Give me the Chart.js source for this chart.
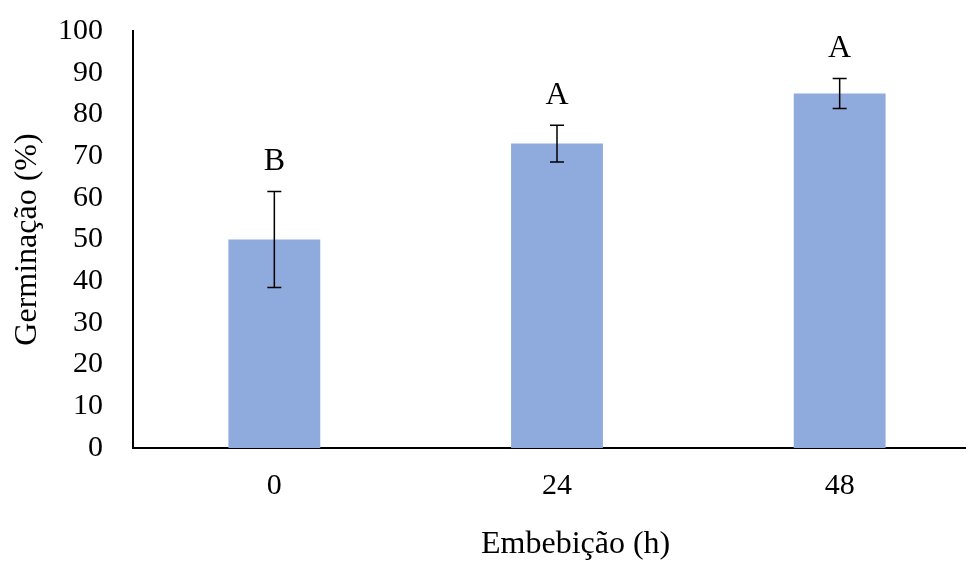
<!DOCTYPE html>
<html>
<head>
<meta charset="utf-8">
<script src="https://cdn.jsdelivr.net/npm/chart.js@4"></script>
<style>
  html, body { margin: 0; padding: 0; background: #fff; overflow: hidden; }
  #wrap { width: 981px; height: 561px; position: relative; }
</style>
</head>
<body>
<div id="wrap"><canvas id="germChart"></canvas></div>
<script>
// values
const categories = ["0", "24", "48"];
const germination = [50, 73, 85];
const errors = [11.5, 4.4, 3.6];
const letters = ["B", "A", "A"];
const yTicks = [0, 10, 20, 30, 40, 50, 60, 70, 80, 90, 100];

const serif = "'Liberation Serif', 'Times New Roman', serif";

// error bars + significance letters, placed through the scales
const annotate = {
  id: "annotate",
  afterDatasetsDraw(chart) {
    const ctx = chart.ctx;
    const x = chart.scales.x;
    const y = chart.scales.y;
    ctx.save();
    ctx.strokeStyle = "#000";
    ctx.lineWidth = 1.5;
    germination.forEach((v, i) => {
      const cx = x.getPixelForValue(i);
      const top = y.getPixelForValue(v + errors[i]);
      const bot = y.getPixelForValue(v - errors[i]);
      ctx.beginPath();
      ctx.moveTo(cx, top); ctx.lineTo(cx, bot);
      ctx.moveTo(cx - 7, top); ctx.lineTo(cx + 7, top);
      ctx.moveTo(cx - 7, bot); ctx.lineTo(cx + 7, bot);
      ctx.stroke();

      ctx.fillStyle = "#000";
      ctx.font = "32px " + serif;
      ctx.textAlign = "center";
      ctx.textBaseline = "middle";
      ctx.fillText(letters[i], cx, top - 30);
    });

    // x axis title
    const area = chart.chartArea;
    ctx.font = "32px " + serif;
    ctx.textAlign = "center";
    ctx.textBaseline = "middle";
    ctx.fillText("Embebição (h)", area.left + (area.right - area.left) * 0.522, area.bottom + 97);
    ctx.restore();
  }
};

const ctx = document.getElementById("germChart").getContext("2d");
new Chart(ctx, {
  type: "bar",
  data: {
    labels: categories,
    datasets: [
      {
        label: "Germinação",
        data: germination,
        backgroundColor: "#8FAADC",
        borderWidth: 0,
        barPercentage: 0.325,
        categoryPercentage: 1,
      },
    ],
  },
  options: {
    responsive: true,
    maintainAspectRatio: false,
    animation: false,
    layout: { padding: { top: 31, right: 0, left: 0, bottom: 0 } },
    plugins: {
      legend: { display: false },
      tooltip: { enabled: false },
    },
    scales: {
      x: {
        grid: { display: false, drawTicks: false },
        border: { color: "#000", width: 2 },
        ticks: {
          color: "#000",
          padding: 20,
          font: { family: serif, size: 30 },
        },
        afterFit: (scale) => { scale.height = 113; },
      },
      y: {
        min: 0,
        max: 100,
        afterBuildTicks: (scale) => { scale.ticks = yTicks.map((v) => ({ value: v })); },
        grid: { display: false, drawTicks: false },
        border: { color: "#000", width: 2 },
        ticks: {
          color: "#000",
          padding: 30,
          font: { family: serif, size: 30 },
        },
        title: {
          display: true,
          text: "Germinação (%)",
          color: "#000",
          font: { family: serif, size: 32 },
          padding: { top: 8, bottom: 0 },
        },
        afterFit: (scale) => {
          scale.width = 133;
          scale.paddingTop = 0;
          scale.paddingBottom = 0;
        },
      },
    },
  },
  plugins: [annotate],
});
</script>
</body>
</html>
